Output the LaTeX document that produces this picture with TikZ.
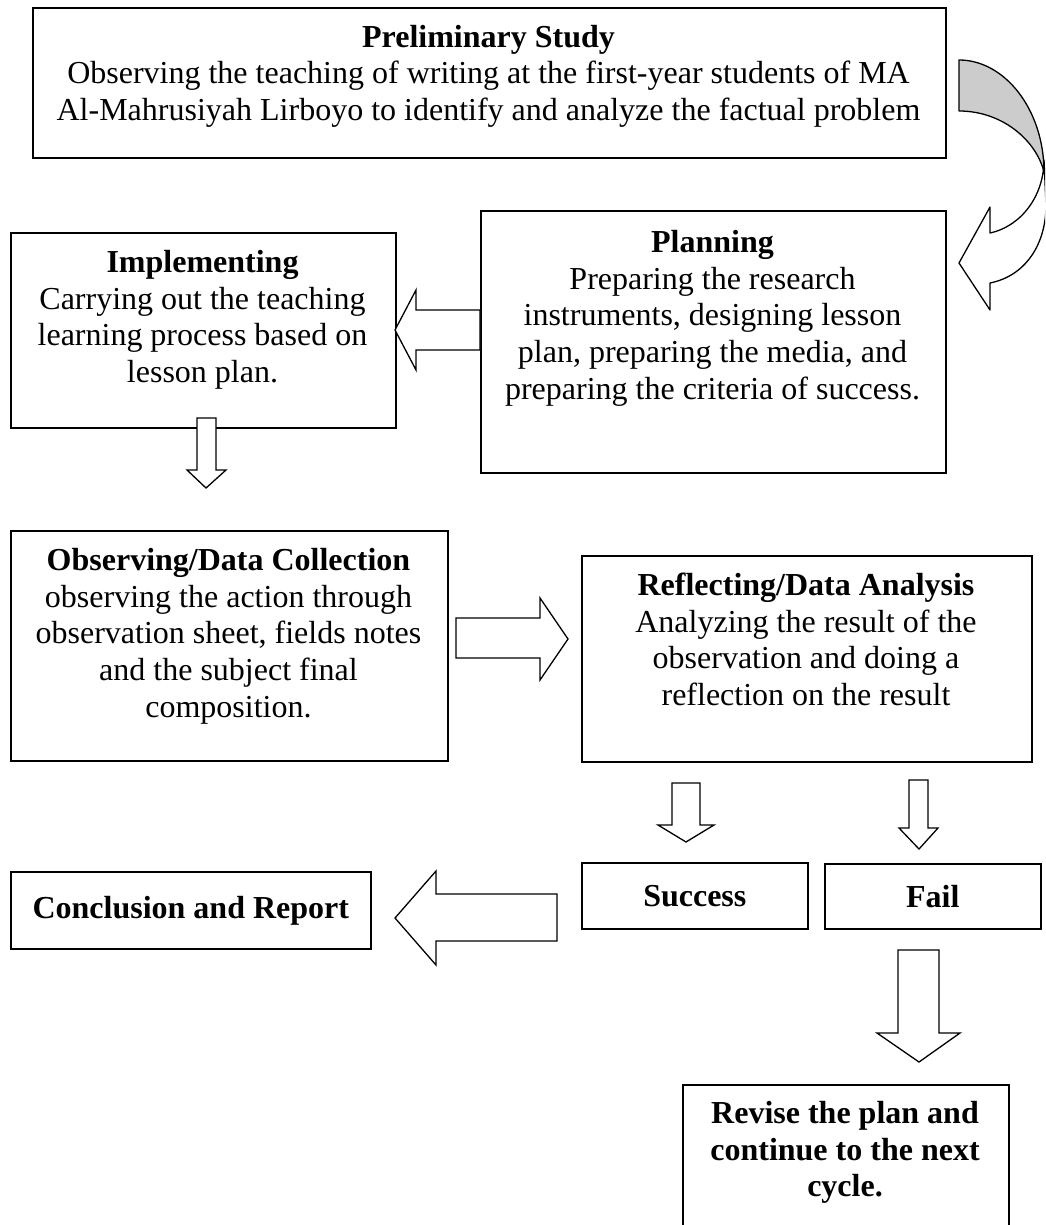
\documentclass[tikz,border=0pt]{standalone}
\usepackage{fontspec}
\setmainfont{Liberation Serif}
\usetikzlibrary{calc}
\begin{document}
\begin{tikzpicture}[x=1pt,y=-1pt,
  box/.style={draw,line width=1.6pt,inner sep=0pt,anchor=north west},
  txt/.style={align=center,inner sep=0pt,anchor=north,font=\fontsize{32}{36.8}\selectfont},
  ctxt/.style={align=center,inner sep=0pt,anchor=center,font=\fontsize{32}{36.8}\selectfont\bfseries},
  barrow/.style={draw,line width=1.3pt,fill=white,line join=miter},
  garrow/.style={draw,line width=1.3pt,fill=black!20,line join=round}]
\useasboundingbox (0,0) rectangle (1045,1225);
\clip (0,0) rectangle (1045,1225);

% boxes
\node[box,minimum width=913pt,minimum height=150pt] (pre) at (32,7) {};
\node[box,minimum width=385pt,minimum height=195pt] (impl) at (10,232) {};
\node[box,minimum width=465pt,minimum height=262pt] (plan) at (480,210) {};
\node[box,minimum width=437pt,minimum height=230pt] (obs) at (10,530) {};
\node[box,minimum width=450pt,minimum height=206pt] (refl) at (581,555) {};
\node[box,minimum width=360pt,minimum height=77pt] (concl) at (10,871) {};
\node[box,minimum width=226pt,minimum height=66pt] (succ) at (581,862) {};
\node[box,minimum width=216pt,minimum height=65pt] (fail) at (824,863) {};
\node[box,minimum width=326pt,minimum height=170pt] (rev) at (682,1084) {};

% texts
\node[txt] (preT) at (488.5,21.24) {\strut\textbf{Preliminary Study}\\
  Observing the teaching of writing at the first-year students of MA\\
  Al-Mahrusiyah Lirboyo to identify and analyze the factual problem};
\node[txt] (implT) at (202.5,246.24) {\strut\textbf{Implementing}\\
  Carrying out the teaching\\ learning process based on\\ lesson plan.};
\node[txt] (planT) at (712.5,226.24) {\strut\textbf{Planning}\\
  Preparing the research\\ instruments, designing lesson\\ plan, preparing the media, and\\ preparing the criteria of success.};
\node[txt] (obsT) at (228.5,544.24) {\strut\textbf{Observing/Data Collection}\\
  observing the action through\\ observation sheet, fields notes\\ and the subject final\\ composition.};
\node[txt] (reflT) at (806,569.24) {\strut\textbf{Reflecting/Data Analysis}\\
  Analyzing the result of the\\ observation and doing a\\ reflection on the result};
\node[ctxt] (conclT) at (concl.center) {Conclusion and Report};
\node[ctxt] (succT) at (succ.center) {Success};
\node[ctxt] (failT) at (fail.center) {Fail};
\node[txt,font=\fontsize{32}{36.8}\selectfont\bfseries] (revT) at (845,1097.24) {\strut Revise the plan and\\ continue to the next\\ cycle.};

% curved arrow: preliminary -> planning
\draw[garrow] (959,60) .. controls (1005,60) and (1044,110) .. (1044,172)
  .. controls (1036,140) and (1002,111) .. (959,111) -- cycle;
\draw[barrow,line join=round] (1044,160) .. controls (1044,195) and (1022,226) .. (990,233)
  -- (990,207) -- (959,263) -- (990,310) -- (990,283)
  .. controls (1025,276) and (1046,245) .. (1046,205) -- cycle;

% block arrows
\draw[barrow] (480,310) -- (416,310) -- (416,290) -- (395,330) -- (416,370) -- (416,350) -- (480,350) -- cycle;
\draw[barrow] (197,418) -- (216,418) -- (216,470) -- (226,470) -- (206,488) -- (187,470) -- (197,470) -- cycle;
\draw[barrow] (456,618) -- (540,618) -- (540,598) -- (568,639) -- (540,680) -- (540,658) -- (456,658) -- cycle;
\draw[barrow] (557,894) -- (436,894) -- (436,871) -- (395,918) -- (436,965) -- (436,941) -- (557,941) -- cycle;
\draw[barrow] (672,783) -- (700,783) -- (700,825) -- (714,825) -- (686,842) -- (658,825) -- (672,825) -- cycle;
\draw[barrow] (909,780) -- (928,780) -- (928,828) -- (938,828) -- (919,849) -- (899,828) -- (909,828) -- cycle;
\draw[barrow] (898,950) -- (939,950) -- (939,1033) -- (960,1033) -- (919,1062) -- (877,1033) -- (898,1033) -- cycle;
\end{tikzpicture}
\end{document}
